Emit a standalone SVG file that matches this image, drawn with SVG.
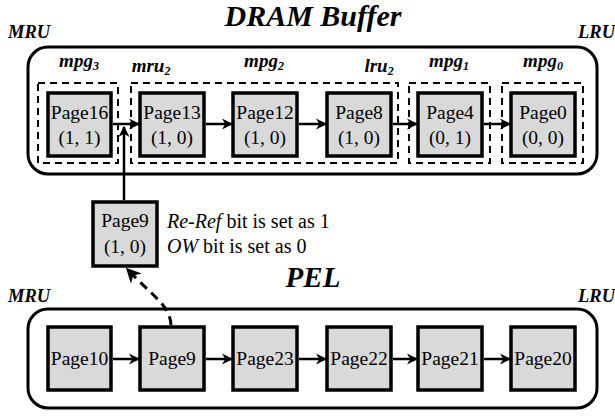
<svg xmlns="http://www.w3.org/2000/svg" width="615" height="416" viewBox="0 0 615 416">
<defs>
<style>
text{font-family:'Liberation Serif','DejaVu Serif',serif;fill:#000}
.title{font-weight:bold;font-style:italic;font-size:30px;text-anchor:middle}
.end{font-weight:bold;font-style:italic;font-size:18.5px}
.grp{font-weight:bold;font-style:italic;font-size:19px;text-anchor:middle}
.pg{font-size:19.5px;text-anchor:middle}
.note{font-size:20px}
.frame{fill:#fff;stroke:#000;stroke-width:3}
.dash{fill:none;stroke:#000;stroke-width:2;stroke-dasharray:7 5}
.box{fill:#d9d9d9;stroke:#000;stroke-width:3.5}
.arr{fill:none;stroke:#000;stroke-width:2.5;marker-end:url(#ah)}
.darr{fill:none;stroke:#000;stroke-width:3;stroke-dasharray:9 6;marker-end:url(#dah)}
</style>
<marker id="ah" viewBox="0 0 10 10" refX="9" refY="5" markerWidth="4.5" markerHeight="4.5" orient="auto" markerUnits="strokeWidth">
<path d="M0,0 L10,5 L0,10 L3,5 Z" fill="#000"/>
</marker>
<marker id="dah" viewBox="0 0 10 10" refX="8" refY="5" markerWidth="5" markerHeight="5" orient="auto" markerUnits="strokeWidth">
<path d="M0,0 L10,5 L0,10 L3,5 Z" fill="#000"/>
</marker>
</defs>
<rect width="615" height="416" fill="#fff"/>
<g font-family="'Liberation Serif','DejaVu Serif',serif">
<g id="dram-buffer">
<text class="title" x="313" y="26">DRAM Buffer</text>
<text class="end" x="8" y="38">MRU</text>
<text class="end" x="578" y="38">LRU</text>
<rect class="frame" x="28" y="47" width="569" height="127" rx="20"/>
</g>

<g id="groups">
<rect class="dash" x="38" y="83" width="80" height="80"/>
<rect class="dash" x="131" y="83" width="267" height="80"/>
<rect class="dash" x="409" y="83" width="81" height="80"/>
<rect class="dash" x="502" y="83" width="81" height="80"/>
<text class="grp" x="79" y="67">mpg<tspan font-size="12" dy="3">3</tspan></text>
<text class="grp" x="151" y="72">mru<tspan font-size="12" dy="3">2</tspan></text>
<text class="grp" x="264" y="67">mpg<tspan font-size="12" dy="3">2</tspan></text>
<text class="grp" x="379" y="72">lru<tspan font-size="12" dy="3">2</tspan></text>
<text class="grp" x="449" y="67">mpg<tspan font-size="12" dy="3">1</tspan></text>
<text class="grp" x="543" y="67">mpg<tspan font-size="12" dy="3">0</tspan></text>
</g>

<g id="page16"><rect class="box" x="48" y="93" width="63" height="63"/><text class="pg" x="79.5" y="119">Page16</text><text class="pg" x="79.5" y="144">(1, 1)</text></g>
<g id="page13"><rect class="box" x="140" y="93" width="64" height="63"/><text class="pg" x="172" y="119">Page13</text><text class="pg" x="172" y="144">(1, 0)</text></g>
<g id="page12"><rect class="box" x="233" y="93" width="64" height="63"/><text class="pg" x="265" y="119">Page12</text><text class="pg" x="265" y="144">(1, 0)</text></g>
<g id="page8"><rect class="box" x="327" y="93" width="64" height="63"/><text class="pg" x="359" y="119">Page8</text><text class="pg" x="359" y="144">(1, 0)</text></g>
<g id="page4"><rect class="box" x="418" y="93" width="64" height="63"/><text class="pg" x="450" y="119">Page4</text><text class="pg" x="450" y="144">(0, 1)</text></g>
<g id="page0"><rect class="box" x="511" y="93" width="64" height="63"/><text class="pg" x="543" y="119">Page0</text><text class="pg" x="543" y="144">(0, 0)</text></g>

<g id="page9-moved"><rect class="box" x="93" y="202" width="64" height="64"/><text class="pg" x="125" y="227">Page9</text><text class="pg" x="125" y="253">(1, 0)</text></g>
<g id="note">
<text class="note" x="167" y="228"><tspan font-style="italic">Re-Ref</tspan> bit is set as 1</text>
<text class="note" x="167" y="253"><tspan font-style="italic">OW</tspan> bit is set as 0</text>
</g>

<g id="pel">
<text class="title" x="313" y="287" style="font-size:29px">PEL</text>
<text class="end" x="8" y="302">MRU</text>
<text class="end" x="578" y="302">LRU</text>
<rect class="frame" x="28" y="309" width="569" height="99" rx="20"/>
</g>

<g id="page10"><rect class="box" x="48" y="327" width="63" height="63"/><text class="pg" x="79.5" y="365">Page10</text></g>
<g id="page9"><rect class="box" x="140" y="327" width="64" height="63"/><text class="pg" x="172" y="365">Page9</text></g>
<g id="page23"><rect class="box" x="233" y="327" width="64" height="63"/><text class="pg" x="265" y="365">Page23</text></g>
<g id="page22"><rect class="box" x="327" y="327" width="64" height="63"/><text class="pg" x="359" y="365">Page22</text></g>
<g id="page21"><rect class="box" x="418" y="327" width="64" height="63"/><text class="pg" x="450" y="365">Page21</text></g>
<g id="page20"><rect class="box" x="511" y="327" width="64" height="63"/><text class="pg" x="543" y="365">Page20</text></g>
</g>
<g id="connectors">
<line class="arr" x1="113" y1="124" x2="139" y2="124"/>
<line class="arr" x1="206" y1="124" x2="232" y2="124"/>
<line class="arr" x1="299" y1="124" x2="326" y2="124"/>
<line class="arr" x1="393" y1="124" x2="417" y2="124"/>
<line class="arr" x1="484" y1="124" x2="510" y2="124"/>
<line class="arr" x1="124" y1="200" x2="124" y2="127"/>
<line class="arr" x1="113" y1="359" x2="139" y2="359"/>
<line class="arr" x1="206" y1="359" x2="232" y2="359"/>
<line class="arr" x1="299" y1="359" x2="326" y2="359"/>
<line class="arr" x1="393" y1="359" x2="417" y2="359"/>
<line class="arr" x1="484" y1="359" x2="510" y2="359"/>
<path class="darr" d="M171,325 C170,306 155,298 128,270"/>
</g>
</svg>
